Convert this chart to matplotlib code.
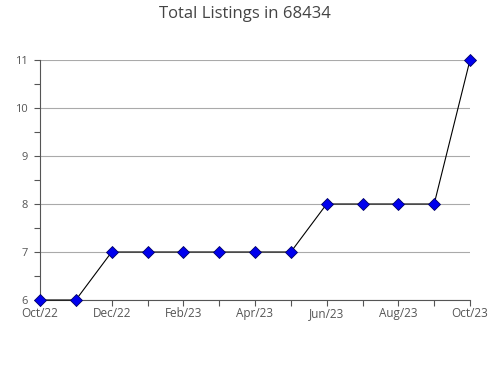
import matplotlib
matplotlib.use('Agg')
import matplotlib.pyplot as plt
from matplotlib.ticker import MultipleLocator

plt.rcParams['font.family'] = ['Open Sans', 'DejaVu Sans']

months = ['Oct/22', 'Nov/22', 'Dec/22', 'Jan/23', 'Feb/23', 'Mar/23', 'Apr/23',
          'May/23', 'Jun/23', 'Jul/23', 'Aug/23', 'Sep/23', 'Oct/23']
listings = [6, 6, 7, 7, 7, 7, 7, 7, 8, 8, 8, 8, 11]

fig = plt.figure(figsize=(4.9, 3.8), dpi=100)
ax = fig.add_axes([40 / 490, 80 / 380, 430 / 490, 240 / 380])

x = list(range(len(months)))
ax.plot(x, listings, color='black', linewidth=0.8, marker='D', markersize=6,
        markerfacecolor='#0000ee', markeredgecolor='#000066', markeredgewidth=0.6,
        zorder=3, clip_on=False)

ax.set_xlim(0, len(months) - 1)
ax.set_ylim(6, 11)
ax.set_xticks(x)
ax.set_xticklabels([m if i % 2 == 0 else '' for i, m in enumerate(months)])
ax.yaxis.set_major_locator(MultipleLocator(1))
ax.yaxis.set_minor_locator(MultipleLocator(0.5))

ax.grid(axis='y', which='major', color='#aaaaaa', linewidth=0.8)
ax.set_axisbelow(True)
for s in ['top', 'right']:
    ax.spines[s].set_visible(False)
for s in ['left', 'bottom']:
    ax.spines[s].set_color('#555555')
    ax.spines[s].set_linewidth(0.8)

ax.tick_params(axis='both', which='both', colors='#555555', length=4, width=0.8)
ax.tick_params(axis='x', pad=1, labelsize=8.5, labelcolor='#555555')
ax.tick_params(axis='y', pad=5, labelsize=8, labelcolor='#555555')

fig.suptitle('Total Listings in 68434', x=245 / 490, y=1 - 14 / 380, fontsize=12,
             color='#444444', va='center')

fig.savefig('out.png', dpi=100)
